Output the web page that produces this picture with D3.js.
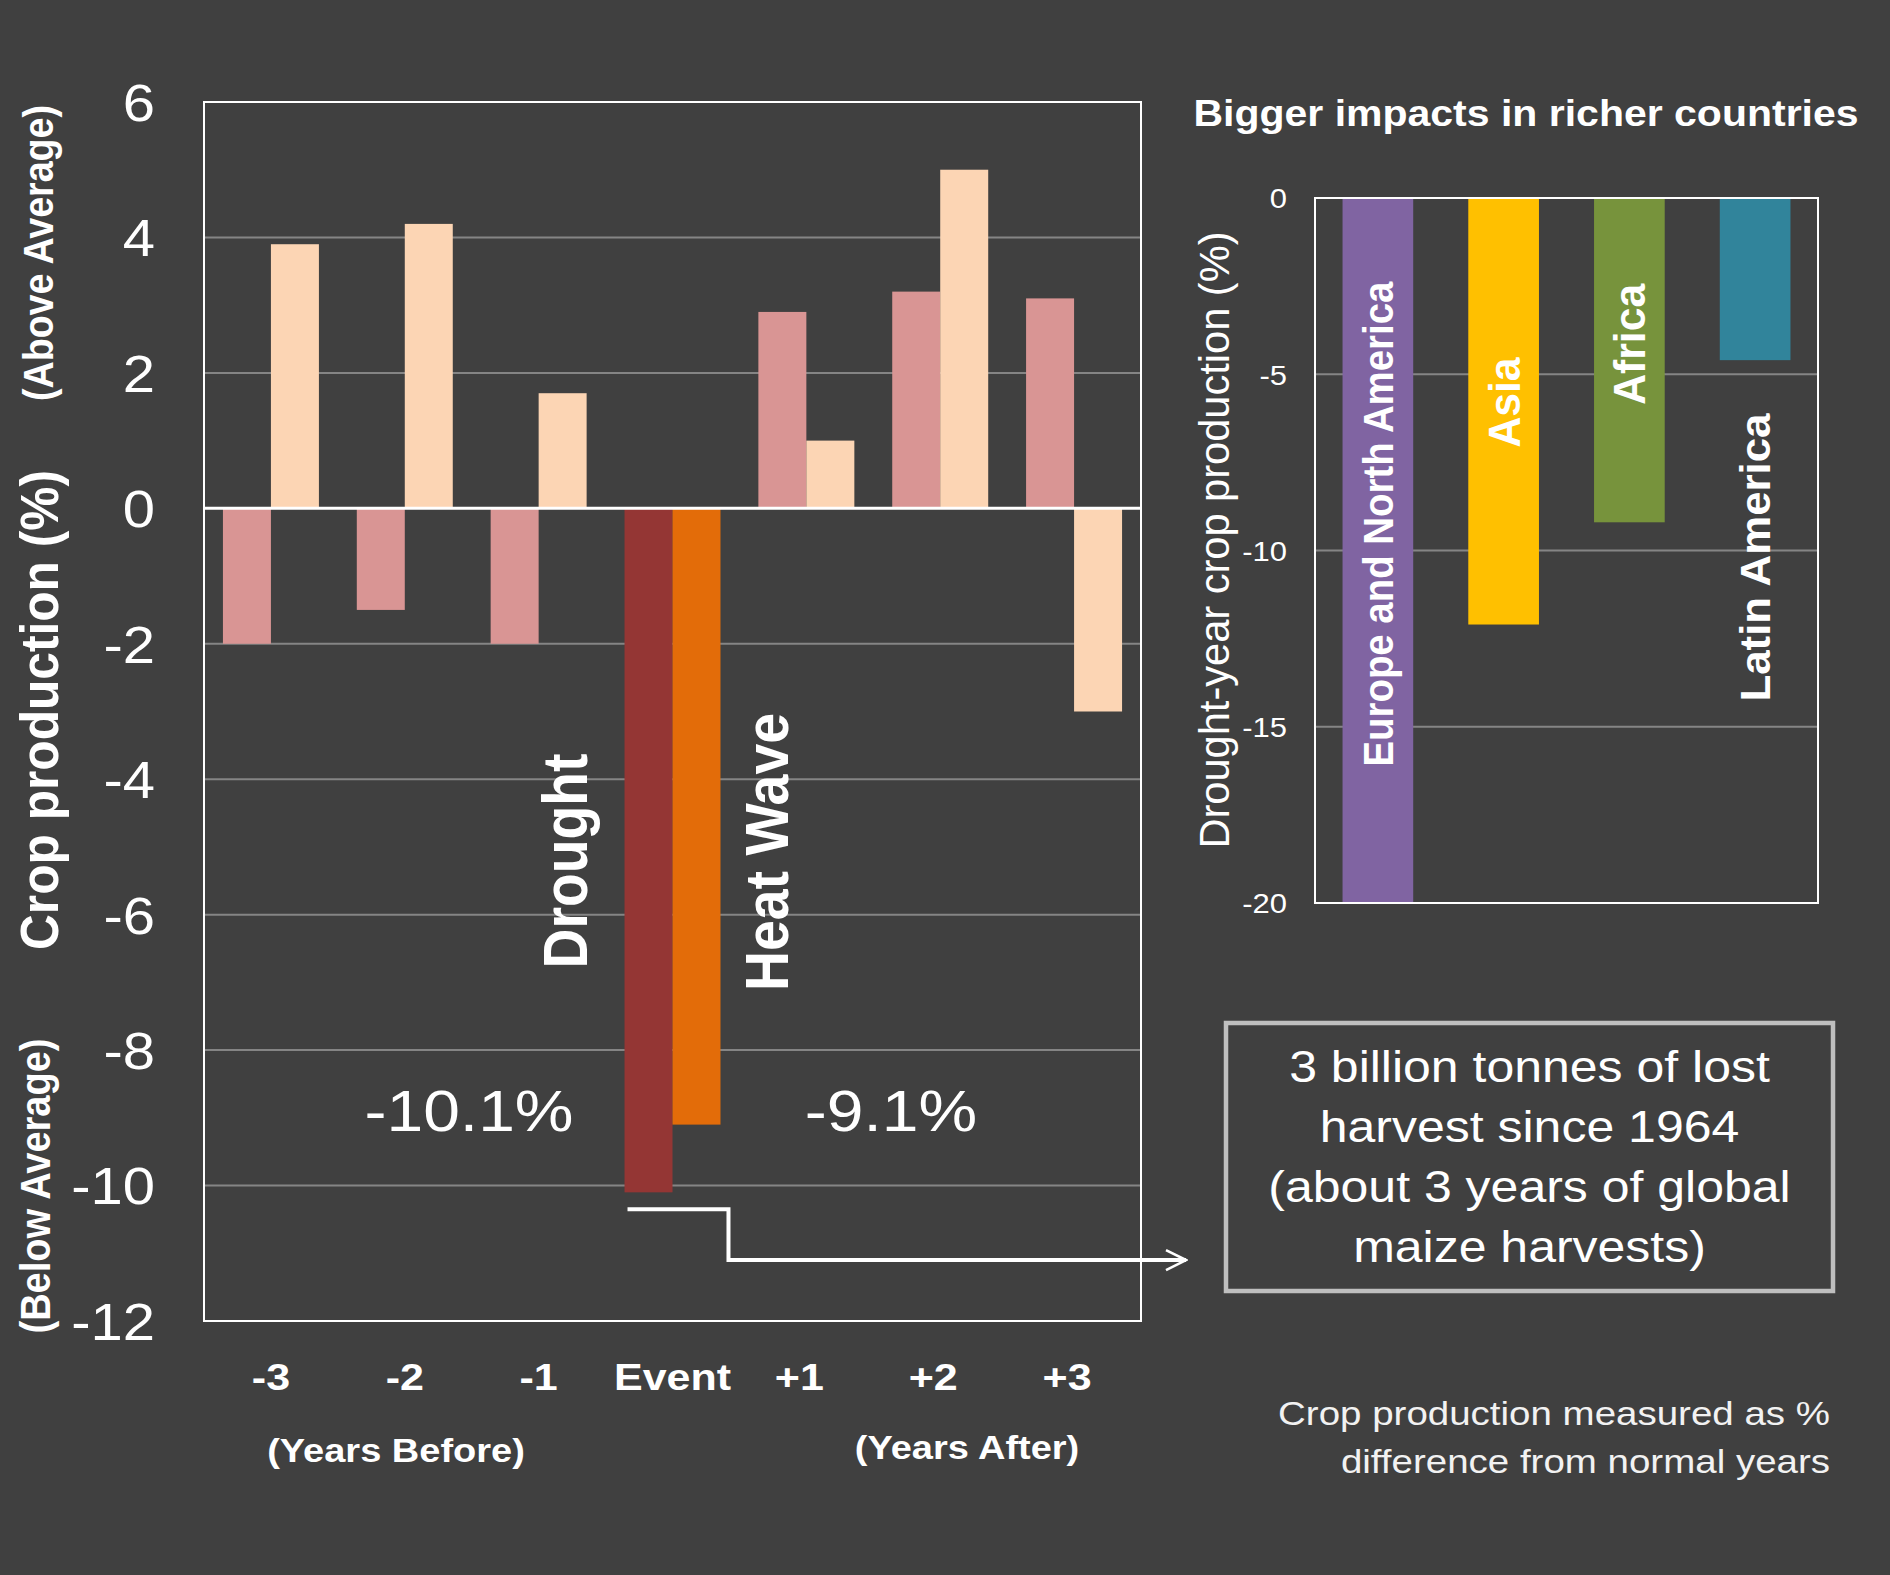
<!DOCTYPE html>
<html>
<head>
<meta charset="utf-8">
<script src="https://cdn.jsdelivr.net/npm/d3@7"></script>
<style>
  html, body { margin: 0; padding: 0; background: #404040; }
  svg { display: block; }
  text { font-family: "Liberation Sans", Arial, sans-serif; fill: #ffffff; }
</style>
</head>
<body>
<svg id="chart" width="1890" height="1575"></svg>
<script>
// ---------------- data ----------------
const categories = ["-3", "-2", "-1", "Event", "+1", "+2", "+3"];
const seriesNames = ["Drought", "Heat Wave"];
const droughtValues = [-2.0, -1.5, -2.0, -10.1, 2.9, 3.2, 3.1];
const heatValues = [3.9, 4.2, 1.7, -9.1, 1.0, 5.0, -3.0];
const yTicks = [6, 4, 2, 0, -2, -4, -6, -8, -10, -12];
const eventTotals = ["-10.1%", "-9.1%"];

const regions = ["Europe and North America", "Asia", "Africa", "Latin America"];
const regionValues = [-20, -12.1, -9.2, -4.6];
const regionTicks = [0, -5, -10, -15, -20];
const regionLabelAt = [-9.25, -5.8, -4.15, -10.2]; // where each rotated label is centred (axis units)

const boxLines = ["3 billion tonnes of lost", "harvest since 1964", "(about 3 years of global", "maize harvests)"];
const noteLines = ["Crop production measured as %", "difference from normal years"];

// ---------------- styles ----------------
const SY = 0.88; // vertical squash of the original typography
const colDrought = "#D99594", colHeat = "#FCD5B4";
const colDroughtEvent = "#943634", colHeatEvent = "#E36C09";
const regionColors = ["#8064A2", "#FFC000", "#77933C", "#31849B"];
const gridColor = "#858585";
const fmt = d => String(d); // plain hyphen-minus, as in the original

const svg = d3.select("#chart");
svg.append("rect").attr("width", 1890).attr("height", 1575).attr("fill", "#404040");

function htext(g, s, x, y, size, weight, anchor) {
  return g.append("text")
    .attr("transform", `translate(${x},${y}) scale(1,${SY})`)
    .attr("text-anchor", anchor || "middle")
    .style("font-size", size + "px")
    .style("font-weight", weight || "normal")
    .text(s);
}
function vtext(g, s, x, y, size, weight, len) {
  const t = g.append("text")
    .attr("transform", `translate(${x},${y}) rotate(-90)`)
    .attr("text-anchor", "middle")
    .style("font-size", size + "px")
    .style("font-weight", weight || "normal")
    .text(s);
  if (len) t.attr("textLength", len).attr("lengthAdjust", "spacingAndGlyphs");
  return t;
}

// ---------------- left chart ----------------
const L = { left: 204, right: 1141, top: 102, bottom: 1321 };
const x0 = d3.scaleBand().domain(categories).range([L.left, L.right]).paddingInner(0.283).paddingOuter(0.1415);
const x1 = d3.scaleBand().domain(seriesNames).range([0, x0.bandwidth()]).padding(0);
const y = d3.scaleLinear().domain([-12, 6]).range([L.bottom, L.top]);

const left = svg.append("g");
// gridlines
left.append("g").selectAll("line")
  .data(yTicks.filter(v => v !== 0 && v !== 6 && v !== -12))
  .join("line")
  .attr("x1", L.left).attr("x2", L.right)
  .attr("y1", d => y(d)).attr("y2", d => y(d))
  .attr("stroke", gridColor).attr("stroke-width", 2);

// bars
const rows = categories.map((c, i) => ({ c, vals: [droughtValues[i], heatValues[i]] }));
const groups = left.append("g").selectAll("g").data(rows).join("g")
  .attr("transform", d => `translate(${x0(d.c)},0)`);
groups.selectAll("rect")
  .data(d => d.vals.map((v, k) => ({ c: d.c, s: seriesNames[k], v, k })))
  .join("rect")
  .attr("x", d => x1(d.s))
  .attr("width", x1.bandwidth())
  .attr("y", d => y(Math.max(0, d.v)))
  .attr("height", d => Math.abs(y(d.v) - y(0)))
  .attr("fill", d => d.c === "Event" ? (d.k === 0 ? colDroughtEvent : colHeatEvent) : (d.k === 0 ? colDrought : colHeat));

// zero line
left.append("line").attr("x1", L.left).attr("x2", L.right)
  .attr("y1", y(0)).attr("y2", y(0)).attr("stroke", "#ffffff").attr("stroke-width", 3);
// frame
left.append("rect").attr("x", L.left).attr("y", L.top)
  .attr("width", L.right - L.left).attr("height", L.bottom - L.top)
  .attr("fill", "none").attr("stroke", "#ffffff").attr("stroke-width", 2);

// y axis
const yAxis = left.append("g").attr("transform", `translate(${L.left},0)`)
  .call(d3.axisLeft(y).tickValues(yTicks).tickSize(0).tickFormat(fmt));
yAxis.select(".domain").remove();
yAxis.selectAll("text")
  .attr("fill", "#ffffff").attr("x", null).attr("dy", "0.36em")
  .attr("transform", `translate(-49,0) scale(1,${SY})`)
  .style("font-size", "58px").style("font-family", '"Liberation Sans", Arial, sans-serif');

// x axis
const xAxis = left.append("g").attr("transform", `translate(0,${L.bottom})`)
  .call(d3.axisBottom(x0).tickSize(0));
xAxis.select(".domain").remove();
xAxis.selectAll("text")
  .attr("fill", "#ffffff").attr("y", null).attr("dy", null)
  .attr("transform", d => `translate(${d.startsWith("+") ? -7 : 0},69) scale(1,${SY})`)
  .style("font-size", "43px").style("font-weight", "bold")
  .style("font-family", '"Liberation Sans", Arial, sans-serif');

htext(left, "(Years Before)", 396, 1462, 38, "bold");
htext(left, "(Years After)", 967, 1459, 38, "bold");

// axis titles
vtext(left, "Crop production (%)", 58, 710, 54, "bold", 480);
vtext(left, "(Above Average)", 53, 253, 42, "bold", 296);
vtext(left, "(Below Average)", 50, 1186, 42, "bold", 295);

// series labels
vtext(left, seriesNames[0], 587, 861, 63, "bold", 215);
vtext(left, seriesNames[1], 788, 852, 61, "bold", 278);

// event totals
htext(left, eventTotals[0], 469, 1131, 66, "normal");
htext(left, eventTotals[1], 891, 1131, 66, "normal");

// arrow
const defs = svg.append("defs");
defs.append("marker").attr("id", "arrow")
  .attr("viewBox", "0 0 12 12").attr("refX", 11).attr("refY", 6)
  .attr("markerWidth", 6).attr("markerHeight", 6).attr("markerUnits", "strokeWidth")
  .attr("orient", "auto")
  .append("path").attr("d", "M1,1 L11,6 L1,11").attr("fill", "none")
  .attr("stroke", "#ffffff").attr("stroke-width", 1.3);
const evBand = x0("Event");
left.append("path")
  .attr("d", `M${evBand + x1("Drought") + 3},${y(-10.35)} H${evBand + x0.bandwidth() + 8} V${y(-11.1)} H1186`)
  .attr("fill", "none").attr("stroke", "#ffffff").attr("stroke-width", 4)
  .attr("marker-end", "url(#arrow)");

// ---------------- right chart ----------------
const R = { left: 1315, right: 1818, top: 198, bottom: 903 };
const xr = d3.scaleBand().domain(regions).range([R.left, R.right]).paddingInner(0.438).paddingOuter(0.219);
const yr = d3.scaleLinear().domain([-20, 0]).range([R.bottom, R.top]);
const right = svg.append("g");

right.append("g").selectAll("line")
  .data(regionTicks.filter(v => v !== 0 && v !== -20))
  .join("line")
  .attr("x1", R.left).attr("x2", R.right)
  .attr("y1", d => yr(d)).attr("y2", d => yr(d))
  .attr("stroke", gridColor).attr("stroke-width", 2);

right.append("g").selectAll("rect")
  .data(regions.map((r, i) => ({ r, v: regionValues[i], i })))
  .join("rect")
  .attr("x", d => xr(d.r)).attr("width", xr.bandwidth())
  .attr("y", d => yr(Math.max(0, d.v)))
  .attr("height", d => Math.abs(yr(d.v) - yr(0)))
  .attr("fill", d => regionColors[d.i]);

right.append("rect").attr("x", R.left).attr("y", R.top)
  .attr("width", R.right - R.left).attr("height", R.bottom - R.top)
  .attr("fill", "none").attr("stroke", "#ffffff").attr("stroke-width", 2);

const ryAxis = right.append("g").attr("transform", `translate(${R.left},0)`)
  .call(d3.axisLeft(yr).tickValues(regionTicks).tickSize(0).tickFormat(fmt));
ryAxis.select(".domain").remove();
ryAxis.selectAll("text")
  .attr("fill", "#ffffff").attr("x", null).attr("dy", "0.36em")
  .attr("transform", `translate(-28,0) scale(1,${SY})`)
  .style("font-size", "31px").style("font-family", '"Liberation Sans", Arial, sans-serif');

htext(right, "Bigger impacts in richer countries", 1526, 126, 41, "bold");
vtext(right, "Drought-year crop production (%)", 1229, 540, 43, "normal", 617);

const labelLens = [485, 90, 121, 288];
const labelSizes = [42, 45, 45, 42];
regions.forEach((r, i) => {
  vtext(right, r, xr(r) + xr.bandwidth() / 2 + labelSizes[i] * 0.358, yr(regionLabelAt[i]), labelSizes[i], "bold", labelLens[i]);
});

// ---------------- text box & note ----------------
const box = svg.append("g");
box.append("rect").attr("x", 1226).attr("y", 1023).attr("width", 607).attr("height", 268)
  .attr("fill", "none").attr("stroke", "#BFBFBF").attr("stroke-width", 4.5);
const boxBase = [1082, 1142, 1202, 1262];
boxLines.forEach((s, i) => htext(box, s, 1529.5, boxBase[i], 50, "normal"));

const noteBase = [1425, 1473];
noteLines.forEach((s, i) => htext(svg, s, 1830, noteBase[i], 38.5, "normal", "end").style("fill", "#F2F2F2"));
</script>
</body>
</html>
